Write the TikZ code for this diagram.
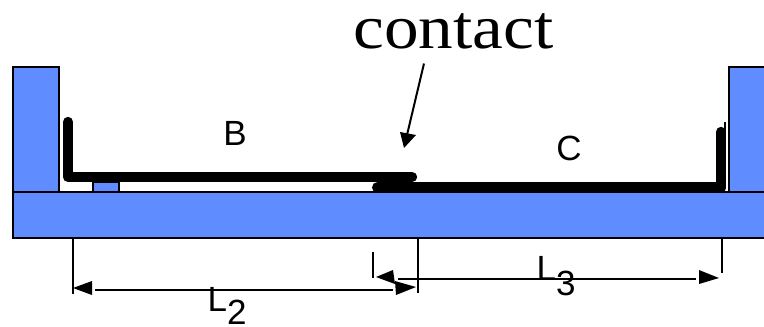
\documentclass[tikz,border=0pt]{standalone}
\usepackage{fontspec}
\setmainfont{Liberation Sans}
\newfontfamily\serifface[FakeStretch=1.117]{Liberation Serif}
\definecolor{partblue}{HTML}{5F8DFF}
\tikzset{
	part/.style={draw=black, fill=partblue, line width=2.6pt},
	beam/.style={line width=10.4pt, line cap=round, line join=round},
	dimline/.style={line width=2pt},
	tipfill/.style={fill=black},
	lab/.style={font=\fontsize{35}{35}\selectfont},
}
\begin{document}
\begin{tikzpicture}[x=1pt, y=-1pt]
	\useasboundingbox (0,0) rectangle (764,327);
	\clip (0,0) rectangle (764,327);
	% supports and base
	\draw [part] (13,67) rectangle (59,192);
	\draw [part] (729,67) rectangle (775,192);
	\draw [part] (13,192) rectangle (775,238);
	\draw [part] (93,182) rectangle (119,192);
	% beams
	\draw [beam] (68,122) -- (68,177) -- (412,177);
	\draw [beam, line width=11pt] (377.5,187.5) -- (716,187.5);
	\draw [beam] (721,132) -- (721,188);
	\draw [dimline] (724.5,122) -- (724.5,135);
	% dimension L2
	\draw [dimline] (73,238) -- (73,294);
	\draw [dimline] (418,238) -- (418,293);
	\draw [dimline] (95,290) -- (393,290);
	\fill [tipfill] (73,288) -- (92,281) -- (92,295) -- cycle;
	\fill [tipfill] (416,287) -- (395,281) -- (396,295) -- cycle;
	% dimension L3
	\draw [dimline] (373,252) -- (373,278);
	\draw [dimline] (722,238) -- (722,273);
	\draw [dimline] (398,278.5) -- (696,278.5);
	\fill [tipfill] (376,277) -- (393,270) -- (395,284) -- cycle;
	\fill [tipfill] (719,278) -- (699,270) -- (699,284) -- cycle;
	% labels
	\node [lab] (labB) at (235,133) {B};
	\node [lab] (labC) at (569,148) {C};
	\node [lab, anchor=base west, inner sep=0pt] (labLtwo) at (207.5,311.5) {L\raisebox{-0.38em}{2}};
	\node [lab, anchor=base west, inner sep=0pt] (labLthree) at (536.5,280) {L\raisebox{-0.45em}{3}};
	\node [font=\serifface\fontsize{62}{62}\selectfont, anchor=base, inner sep=0pt] (contact) at (453.5,48) {contact};
	\coordinate (contacttip) at (404,148);
	\draw [dimline] (424,63.5) -- (407,135);
	\fill [tipfill] (contacttip) -- (400,132) -- (416,135) -- cycle;
\end{tikzpicture}
\end{document}
